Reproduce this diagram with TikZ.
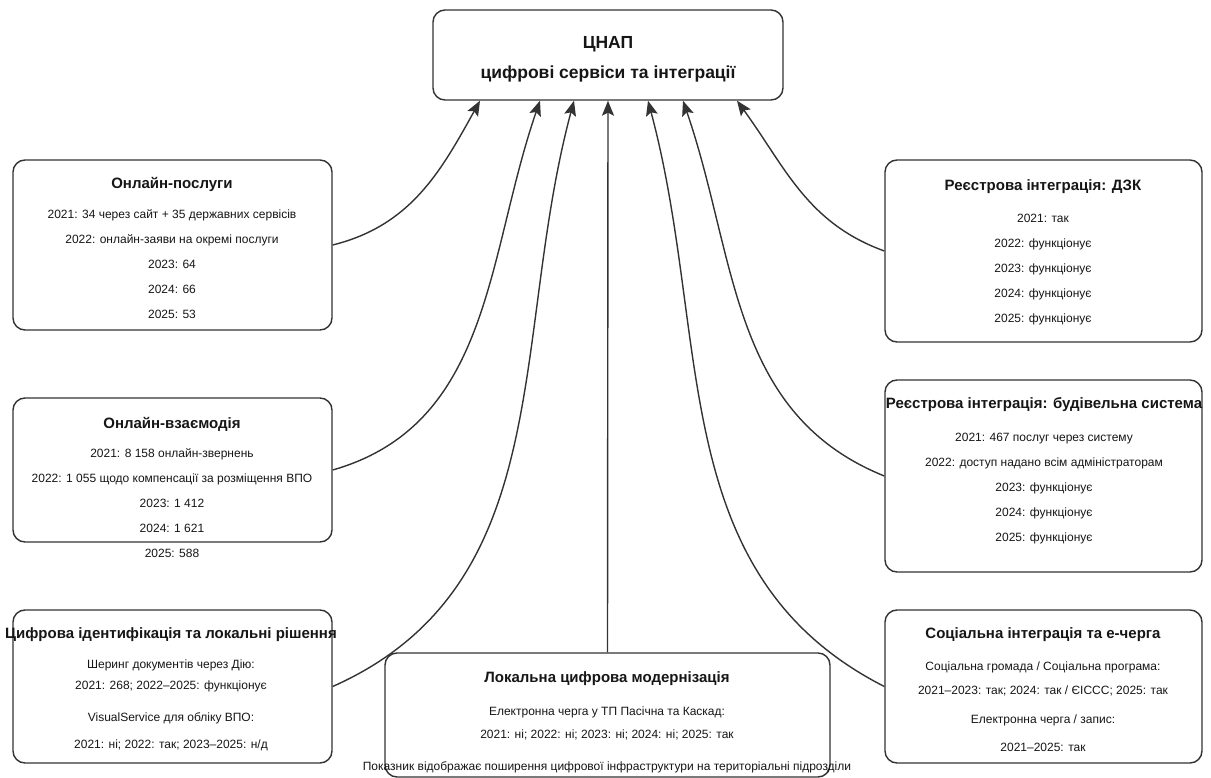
\documentclass[tikz,border=0pt]{standalone}
\usepackage{fontspec}
\setmainfont{Liberation Sans}
\usetikzlibrary{arrows.meta, positioning, calc}
\definecolor{edgegray}{HTML}{333333}
\definecolor{inkblack}{HTML}{161616}

\begin{document}
\begin{tikzpicture}[x=1pt, y=-1pt,
    box/.style={draw=edgegray, line width=1.4pt, rounded corners=12pt, fill=white, inner sep=0pt},
    txt/.style={align=center, inner sep=0pt, anchor=north, text=inkblack, font=\fontsize{12}{25}\selectfont},
    link/.style={draw=edgegray, line width=1.4pt, -{Stealth[length=15pt, width=12pt, inset=3pt]}}]
    \useasboundingbox (0,0) rectangle (1211,778);

    % centre
    \node[box, minimum width=350pt, minimum height=90pt, align=center, text=inkblack,
          font=\fontsize{17.5}{30}\selectfont\bfseries] (root) at (608,55)
        {\rule{0pt}{21pt}ЦНАП\\цифрові сервіси та інтеграції};

    % left column
    \node[box, minimum width=319pt, minimum height=170pt] (onlinesvc) at (172.5,245) {};
    \node[txt] (onlinesvcT) at (172,177)
        {{\bfseries\fontsize{15}{18}\selectfont Онлайн-послуги}\\[5pt]
         2021: 34 через сайт + 35 державних сервісів\\
         2022: онлайн-заяви на окремі послуги\\
         2023: 64\\ 2024: 66\\ 2025: 53};

    \node[box, minimum width=319pt, minimum height=144pt] (onlineint) at (172.5,470) {};
    \node[txt] (onlineintT) at (172,417)
        {{\bfseries\fontsize{15}{18}\selectfont Онлайн-взаємодія}\\[4pt]
         2021: 8 158 онлайн-звернень\\
         2022: 1 055 щодо компенсації за розміщення ВПО\\
         2023: 1 412\\ 2024: 1 621\\ 2025: 588};

    \node[box, minimum width=319pt, minimum height=153pt] (digid) at (172.5,686.5) {};
    \node[txt] (digidT) at (171,627)
        {{\bfseries\fontsize{15}{18}\selectfont Цифрова ідентифікація та локальні рішення}\\[5pt]
         Шеринг документів через Дію:\\[-4pt]
         2021: 268; 2022--2025: функціонує\\[7pt]
         VisualService для обліку ВПО:\\[2pt]
         2021: ні; 2022: так; 2023--2025: н/д};

    % bottom
    \node[box, minimum width=445pt, minimum height=124pt] (localmod) at (607.5,715) {};
    \node[txt] (localmodT) at (607,671)
        {{\bfseries\fontsize{15}{18}\selectfont Локальна цифрова модернізація}\\[8pt]
         Електронна черга у ТП Пасічна та Каскад:\\[-2pt]
         2021: ні; 2022: ні; 2023: ні; 2024: ні; 2025: так\\[7pt]
         Показник відображає поширення цифрової інфраструктури на територіальні підрозділи};

    % right column
    \node[box, minimum width=317pt, minimum height=182pt] (regdzk) at (1043.5,251) {};
    \node[txt] (regdzkT) at (1043,179)
        {{\bfseries\fontsize{15}{18}\selectfont Реєстрова інтеграція: ДЗК}\\[7pt]
         2021: так\\ 2022: функціонує\\ 2023: функціонує\\
         2024: функціонує\\ 2025: функціонує};

    \node[box, minimum width=317pt, minimum height=192pt] (regbuild) at (1043.5,476) {};
    \node[txt] (regbuildT) at (1044,397)
        {{\bfseries\fontsize{15}{18}\selectfont Реєстрова інтеграція: будівельна система}\\[8pt]
         2021: 467 послуг через систему\\
         2022: доступ надано всім адміністраторам\\
         2023: функціонує\\ 2024: функціонує\\ 2025: функціонує};

    \node[box, minimum width=317pt, minimum height=153pt] (social) at (1043.5,686.5) {};
    \node[txt] (socialT) at (1043,627)
        {{\bfseries\fontsize{15}{18}\selectfont Соціальна інтеграція та е-черга}\\[7pt]
         Соціальна громада / Соціальна програма:\\[-1pt]
         2021--2023: так; 2024: так / ЄІССС; 2025: так\\[4pt]
         Електронна черга / запис:\\[3pt]
         2021--2025: так};

    % connectors
    \draw[link] (onlinesvc.east) to[out=14, in=241] ($(root.south)+(-128,0)$);
    \draw[link] (onlineint.east) to[out=16, in=251] ($(root.south)+(-68,0)$);
    \draw[link] (digid.east) to[out=24, in=255] ($(root.south)+(-34,0)$);
    \draw[link] (localmod.north) -- (root.south);
    \draw[link] (social.west) to[out=153, in=285] ($(root.south)+(40,0)$);
    \draw[link] (regbuild.west) to[out=158, in=289] ($(root.south)+(75,0)$);
    \draw[link] (regdzk.west) to[out=160, in=306] ($(root.south)+(129,0)$);
\end{tikzpicture}
\end{document}
